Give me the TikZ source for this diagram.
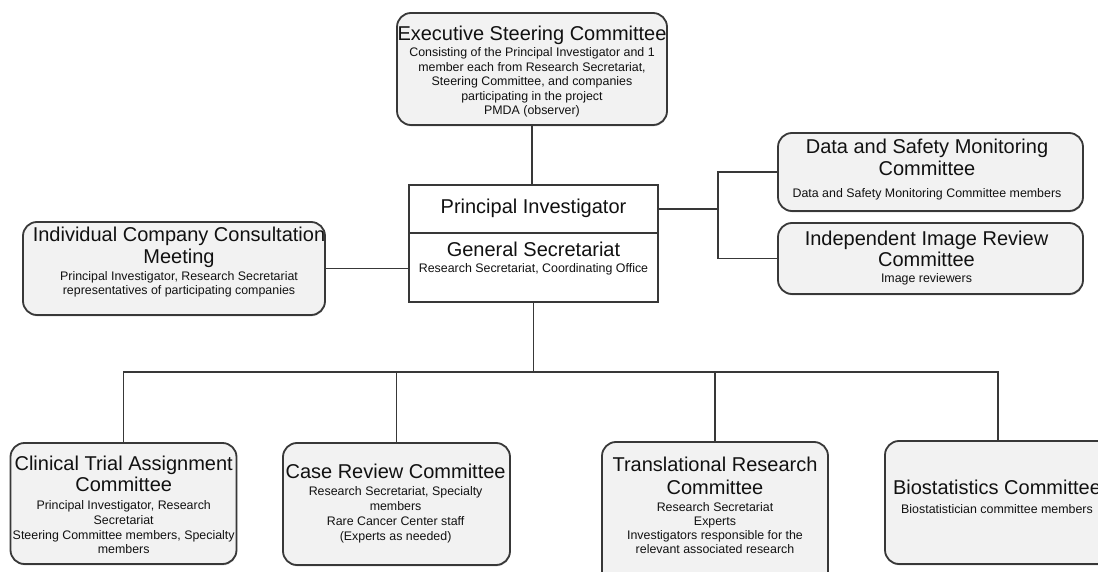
\documentclass[tikz,border=0pt]{standalone}
\usepackage{fontspec}
\setmainfont{Liberation Sans}
\usetikzlibrary{shadows}
\definecolor{edge}{HTML}{383838}
\definecolor{boxfill}{HTML}{F2F2F2}
\definecolor{ink}{HTML}{111111}
\begin{document}
\begin{tikzpicture}[x=1pt,y=-1pt,
  shad/.style={drop shadow={shadow xshift=0.5pt,shadow yshift=-1.3pt,opacity=0.4}},
  rbox/.style={draw=edge, line width=1.8pt, fill=boxfill, rounded corners=14pt, inner sep=0pt, shad},
  sbox/.style={draw=edge, line width=1.8pt, fill=white, inner sep=0pt, shad},
  conn/.style={draw=edge, line width=1.8pt},
  ttl/.style={font=\fontsize{20}{21.7}\selectfont, text=ink, align=center, inner sep=0pt, anchor=north},
  sub/.style={font=\fontsize{12.4}{14.5}\selectfont, text=ink, align=center, inner sep=0pt, anchor=north},
]
\useasboundingbox[fill=white] (0,0) rectangle (1098,572);

% boxes
\node[rbox, minimum width=270pt, minimum height=112pt] (esc) at (532,69) {};
\node[sbox, minimum width=249pt, minimum height=48pt] (pi) at (533.5,209) {};
\node[sbox, minimum width=249pt, minimum height=69pt] (gs) at (533.5,267.5) {};
\node[rbox, minimum width=302pt, minimum height=93pt] (iccm) at (174,268.5) {};
\node[rbox, minimum width=305pt, minimum height=78pt] (dsmc) at (930.5,172) {};
\node[rbox, minimum width=305pt, minimum height=71pt] (iirc) at (930.5,258.5) {};
\node[rbox, minimum width=226pt, minimum height=121pt] (ctac) at (123.5,503.5) {};
\node[rbox, minimum width=227pt, minimum height=122pt] (crc) at (396.5,504) {};
\node[rbox, minimum width=226pt, minimum height=150pt] (trc) at (715,517) {};
\node[rbox, minimum width=226pt, minimum height=123pt] (bc) at (998,502.5) {};

% connectors
\draw[conn] (esc.south) -- (esc.south |- pi.north);
\coordinate (j) at (718,209);
\draw[conn] (pi.east) -- (j);
\draw[conn] (j) |- (dsmc.west);
\draw[conn] (j) |- (iirc.west);
\draw[conn] (iccm.east) -- (iccm.east -| gs.west);
\coordinate (b) at (533.5,372);
\draw[conn] (gs.south) -- (b);
\draw[conn] (b) -| (ctac.north);
\draw[conn] (b) -| (crc.north);
\draw[conn] (b) -| (trc.north);
\draw[conn] (b) -| (bc.north);

% texts
\node[ttl] (escT) at (532,24.8) {\strut Executive Steering Committee};
\node[sub] (escS) at (532,46.4) {\strut Consisting of the Principal Investigator and 1\\member each from Research Secretariat,\\Steering Committee, and companies\\participating in the project\\PMDA (observer)};

\node[ttl] (piT) at (533.5,198.1) {\strut Principal Investigator};
\node[ttl] (gsT) at (533.5,241.5) {\strut General Secretariat};
\node[sub] (gsS) at (533.5,262.6) {\strut Research Secretariat, Coordinating Office};

\node[ttl] (iccmT) at (179,226.5) {\strut Individual Company Consultation\\Meeting};
\node[sub, font=\fontsize{12.4}{14}\selectfont] (iccmS) at (179,270.7) {\strut Principal Investigator, Research Secretariat\\representatives of participating companies};

\node[ttl] (dsmcT) at (927,138.1) {\strut Data and Safety Monitoring\\Committee};
\node[sub] (dsmcS) at (927,187.6) {\strut Data and Safety Monitoring Committee members};

\node[ttl, font=\fontsize{20}{17.7}\selectfont] (iircT) at (926.5,230.9) {\strut Independent Image Review\\Committee};
\node[sub] (iircS) at (926.5,272.6) {\strut Image reviewers};

\node[ttl] (ctacT) at (123.7,454.8) {\strut Clinical Trial Assignment\\Committee};
\node[sub, font=\fontsize{12.4}{14.7}\selectfont] (ctacS) at (123.7,499.2) {\strut Principal Investigator, Research\\Secretariat\\Steering Committee members, Specialty\\members};

\node[ttl] (crcT) at (395.6,463.1) {\strut Case Review Committee};
\node[sub, font=\fontsize{12.4}{14.9}\selectfont] (crcS) at (395.6,485.1) {\strut Research Secretariat, Specialty\\members\\Rare Cancer Center staff\\(Experts as needed)};

\node[ttl, font=\fontsize{20}{22.3}\selectfont] (trcT) at (715,456.1) {\strut Translational Research\\Committee};
\node[sub, font=\fontsize{12.4}{14}\selectfont] (trcS) at (715,501.9) {\strut Research Secretariat\\Experts\\Investigators responsible for the\\relevant associated research};

\node[ttl] (bcT) at (997,478.8) {\strut Biostatistics Committee};
\node[sub] (bcS) at (997,503.1) {\strut Biostatistician committee members};
\end{tikzpicture}
\end{document}
